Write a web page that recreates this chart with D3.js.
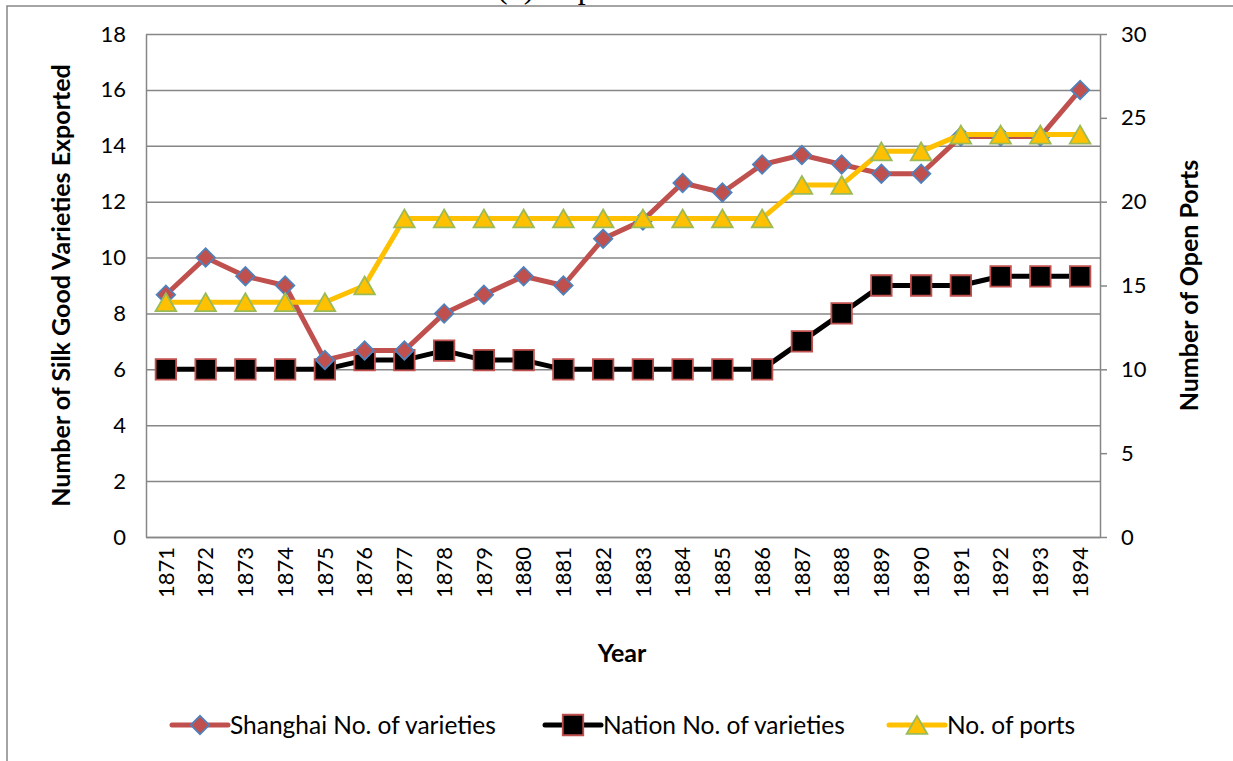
<!DOCTYPE html>
<meta charset="utf-8">
<script src="https://d3js.org/d3.v7.min.js"></script>
<style>
  body { margin: 0; background: #fff; }
  text { font-family: Lato, "Open Sans", sans-serif; }
</style>
<div id="chart"></div>
<script>

// data
const years = ["1871","1872","1873","1874","1875","1876","1877","1878","1879","1880","1881","1882",
               "1883","1884","1885","1886","1887","1888","1889","1890","1891","1892","1893","1894"];
const shanghai = [8.67, 10, 9.33, 9, 6.33, 6.67, 6.67, 8, 8.67, 9.33, 9, 10.67,
                  11.33, 12.67, 12.33, 13.33, 13.67, 13.33, 13, 13, 14.33, 14.33, 14.33, 16];
const nation = [6, 6, 6, 6, 6, 6.33, 6.33, 6.67, 6.33, 6.33, 6, 6,
                6, 6, 6, 6, 7, 8, 9, 9, 9, 9.33, 9.33, 9.33];
const ports = [14, 14, 14, 14, 14, 15, 19, 19, 19, 19, 19, 19,
               19, 19, 19, 19, 21, 21, 23, 23, 24, 24, 24, 24];
const leftTicks = [0, 2, 4, 6, 8, 10, 12, 14, 16, 18];
const rightTicks = [0, 5, 10, 15, 20, 25, 30];
const seriesNames = ["Shanghai No. of varieties", "Nation No. of varieties", "No. of ports"];

const W = 1233, H = 761;
const margin = {top: 34, right: 133, bottom: 224, left: 146};
const width = W - margin.left - margin.right,
      height = H - margin.top - margin.bottom;

const grid = "#868686";

const svg = d3.select("#chart").append("svg")
    .attr("width", W).attr("height", H);

// outer chart frame (only top and left edge show in the picture)
svg.append("path")
    .attr("d", `M7,${H + 2} V6 H${W + 2}`)
    .attr("fill", "none").attr("stroke", grid).attr("stroke-width", 1.5);

// title, cut off by the top of the picture
svg.append("text")
    .attr("x", 497).attr("y", -2)
    .style("font-family", "'Liberation Serif', serif")
    .style("font-size", "32px")
    .text("(b) Export of Silk Goods");

const g = svg.append("g")
    .attr("transform", `translate(${margin.left},${margin.top})`);

const x = d3.scaleBand().domain(years).range([0, width]);
const y = d3.scaleLinear().domain([0, 18]).range([height, 0]);
const y2 = d3.scaleLinear().domain([0, 30]).range([height, 0]);
const cx = d => x(d) + x.bandwidth() / 2;

// gridlines
g.append("g")
  .call(d3.axisLeft(y).tickValues(leftTicks).tickSize(-width).tickFormat(""))
  .call(a => a.select(".domain").remove())
  .selectAll("line").attr("stroke", grid).attr("stroke-width", 1.5);

// left axis
g.append("g")
  .call(d3.axisLeft(y).tickValues(leftTicks).tickSize(0).tickPadding(20))
  .call(a => a.select(".domain").attr("stroke", grid).attr("stroke-width", 1.5))
  .selectAll("text").style("font-size", "22px").attr("fill", "#000");

// right axis
g.append("g")
  .attr("transform", `translate(${width},0)`)
  .call(d3.axisRight(y2).tickValues(rightTicks).tickSize(7).tickPadding(14).tickSizeOuter(0))
  .call(a => a.selectAll("line, .domain").attr("stroke", grid).attr("stroke-width", 1.5))
  .selectAll("text").style("font-size", "22px").attr("fill", "#000");

// bottom axis
g.append("g")
  .attr("transform", `translate(0,${height})`)
  .call(d3.axisBottom(x).tickSize(0).tickPadding(0))
  .call(a => a.select(".domain").attr("stroke", grid).attr("stroke-width", 1.5))
  .selectAll("text")
    .style("font-size", "22px").attr("fill", "#000")
    .attr("text-anchor", "end")
    .attr("dy", "0.35em")
    .attr("transform", "translate(0,10) rotate(-90)")
    .attr("y", 0).attr("x", 0);

// axis titles
svg.append("text")
    .attr("transform", `translate(70,${margin.top + height / 2}) rotate(-90)`)
    .attr("text-anchor", "middle")
    .style("font-size", "25px").style("font-weight", "bold")
    .text("Number of Silk Good Varieties Exported");

svg.append("text")
    .attr("transform", `translate(1198,${margin.top + height / 2}) rotate(-90)`)
    .attr("text-anchor", "middle")
    .style("font-size", "25px").style("font-weight", "bold")
    .text("Number of Open Ports");

svg.append("text")
    .attr("x", 622).attr("y", 662)
    .attr("text-anchor", "middle")
    .style("font-size", "25px").style("font-weight", "bold")
    .text("Year");

// marker shapes
const triSize = 185;
const diamond = d3.symbol().type(d3.symbolSquare).size(170)();
const square = d3.symbol().type(d3.symbolSquare).size(420)();
const triangle = d3.symbol().type(d3.symbolTriangle).size(triSize)();
const triSide = Math.sqrt(triSize * 4 / Math.sqrt(3));
const triShift = triSide * Math.sqrt(3) / 2 / 6;

const series = [
  {name: seriesNames[1], values: nation, scale: y, line: "#000000", fill: "#000000", edge: "#C0504D", shape: square, rot: 0, dy: 0},
  {name: seriesNames[0], values: shanghai, scale: y, line: "#C0504D", fill: "#C0504D", edge: "#4F81BD", shape: diamond, rot: 45, dy: 0},
  {name: seriesNames[2], values: ports, scale: y2, line: "#FFC000", fill: "#FFC000", edge: "#9BBB59", shape: triangle, rot: 0, dy: triShift}
];

series.forEach(s => {
  const line = d3.line()
    .x((d, i) => cx(years[i]))
    .y(d => s.scale(d));
  g.append("path")
    .datum(s.values)
    .attr("fill", "none")
    .attr("stroke", s.line)
    .attr("stroke-width", 5)
    .attr("stroke-linejoin", "round")
    .attr("d", line);
  g.selectAll(null)
    .data(s.values)
    .join("path")
      .attr("d", s.shape)
      .attr("transform", (d, i) => `translate(${cx(years[i])},${s.scale(d) + s.dy}) rotate(${s.rot})`)
      .attr("fill", s.fill)
      .attr("stroke", s.edge)
      .attr("stroke-width", 1.8);
});

// legend
const legendPos = [172, 545, 889];
const legendOrder = [series[1], series[0], series[2]];
legendOrder.forEach((s, i) => {
  const lg = svg.append("g").attr("transform", `translate(${legendPos[i]},725)`);
  lg.append("line")
    .attr("x1", 0).attr("x2", 56).attr("y1", 0).attr("y2", 0)
    .attr("stroke", s.line).attr("stroke-width", 5).attr("stroke-linecap", "round");
  lg.append("path")
    .attr("d", s.shape)
    .attr("transform", `translate(28,${s.dy}) rotate(${s.rot})`)
    .attr("fill", s.fill).attr("stroke", s.edge).attr("stroke-width", 1.8);
  lg.append("text")
    .attr("x", 58).attr("y", 0).attr("dy", "0.35em")
    .style("font-size", "24.5px")
    .text(s.name);
});

</script>
